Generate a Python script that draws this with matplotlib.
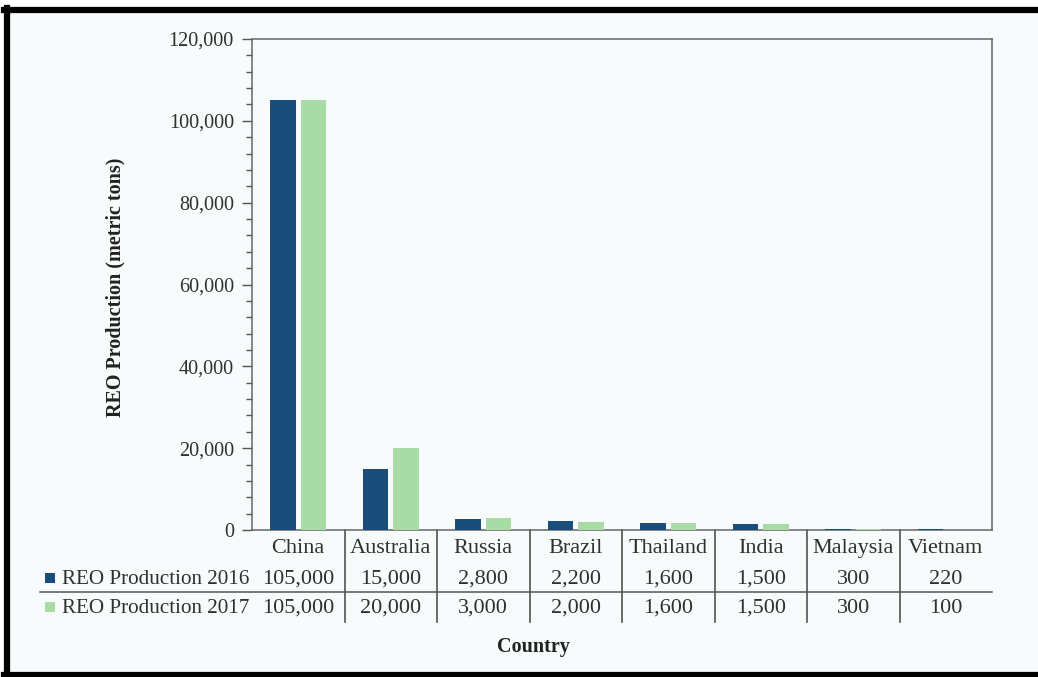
import matplotlib
matplotlib.use("Agg")
import matplotlib.pyplot as plt
import matplotlib.transforms as mtransforms
import matplotlib.patches as mpatches
from matplotlib.lines import Line2D
from matplotlib.ticker import MultipleLocator, FuncFormatter
import numpy as np

# data
countries = ["China", "Australia", "Russia", "Brazil", "Thailand", "India", "Malaysia", "Vietnam"]
prod_2016 = [105000, 15000, 2800, 2200, 1600, 1500, 300, 220]
prod_2017 = [105000, 20000, 3000, 2000, 1600, 1500, 300, 100]
series_names = ["REO Production 2016", "REO Production 2017"]

# styles
C_2016 = "#1a4d7a"
C_2017 = "#a9dba7"
BG = "#f7fbfc"
TXT = "#303030"
plt.rcParams['font.family'] = ['Liberation Serif', 'DejaVu Serif']

W, H = 1038, 677
fig = plt.figure(figsize=(W / 100, H / 100), dpi=100, facecolor="white")


def fx(px):
    return px / W


def fy(py):
    return 1 - py / H


# tinted panel inside the black frame
bg = mpatches.Rectangle((fx(6), 0), 1, fy(10), transform=fig.transFigure,
                        facecolor=BG, edgecolor="none", zorder=-10)
fig.add_artist(bg)

ax = fig.add_axes([fx(252), fy(530), fx(992) - fx(252), fy(39) - fy(530)])
ax.set_facecolor(BG)

x = np.arange(len(countries))
bw = 0.28
ax.bar(x - 0.165, prod_2016, width=bw, color=C_2016, zorder=3)
ax.bar(x + 0.165, prod_2017, width=bw, color=C_2017, zorder=3)

ax.set_xlim(-0.5, len(countries) - 0.5)
ax.set_ylim(0, 120000)
ax.yaxis.set_major_locator(MultipleLocator(20000))
ax.yaxis.set_minor_locator(MultipleLocator(4000))
ax.yaxis.set_major_formatter(FuncFormatter(lambda v, p: f"{int(v):,}"))
ax.set_xticks([])
ax.tick_params(axis="y", which="major", length=7, width=1, color="#555555",
               labelsize=14.5, labelcolor=TXT, pad=6)
ax.tick_params(axis="y", which="minor", length=4, width=1, color="#555555")
for s in ["left", "right", "top", "bottom"]:
    ax.spines[s].set_color("#666666")
    ax.spines[s].set_linewidth(1.1)

# y label
fig.text(fx(115), fy(287), "REO Production (metric tons)", rotation=90, ha="center", va="center",
         fontsize=14.5, fontweight="bold", color="#222222")

# data table under the axis
tr = mtransforms.blended_transform_factory(ax.transData, fig.transFigure)
for i, c in enumerate(countries):
    ax.text(i, fy(553), c, transform=tr, ha="center", va="baseline", fontsize=16, color=TXT, clip_on=False)
    ax.text(i, fy(584), f"{prod_2016[i]:,}", transform=tr, ha="center", va="baseline", fontsize=16,
            color=TXT, clip_on=False)
    ax.text(i, fy(613), f"{prod_2017[i]:,}", transform=tr, ha="center", va="baseline", fontsize=16,
            color=TXT, clip_on=False)

for b in np.arange(0.5, len(countries) - 1, 1.0):
    ax.add_line(Line2D([b, b], [fy(530), fy(622)], transform=tr, color="#444444", lw=1.1, clip_on=False))

fig.add_artist(Line2D([fx(40), fx(992)], [fy(592), fy(592)], color="#555555", lw=1.1))

# row labels with colour keys
for name, col, base in [(series_names[0], C_2016, 584), (series_names[1], C_2017, 613)]:
    key = mpatches.Rectangle((fx(45), fy(base - 1)), fx(10), 10 / H,
                             transform=fig.transFigure, facecolor=col, edgecolor="none")
    fig.add_artist(key)
    fig.text(fx(62), fy(base), name, ha="left", va="baseline", fontsize=15.2, color=TXT)

fig.text(fx(533), fy(647), "Country", ha="center", va="center", fontsize=14.5, fontweight="bold", color="#222222")

# black frame (left, top, bottom)
fig.add_artist(Line2D([fx(4), 1], [fy(10), fy(10)], color="black", lw=4.5))
fig.add_artist(Line2D([fx(6.5), fx(6.5)], [fy(8), fy(677)], color="black", lw=4.5))
fig.add_artist(Line2D([fx(4), 1], [fy(675), fy(675)], color="black", lw=4.5))

fig.savefig("out.png", dpi=100, facecolor="white")
